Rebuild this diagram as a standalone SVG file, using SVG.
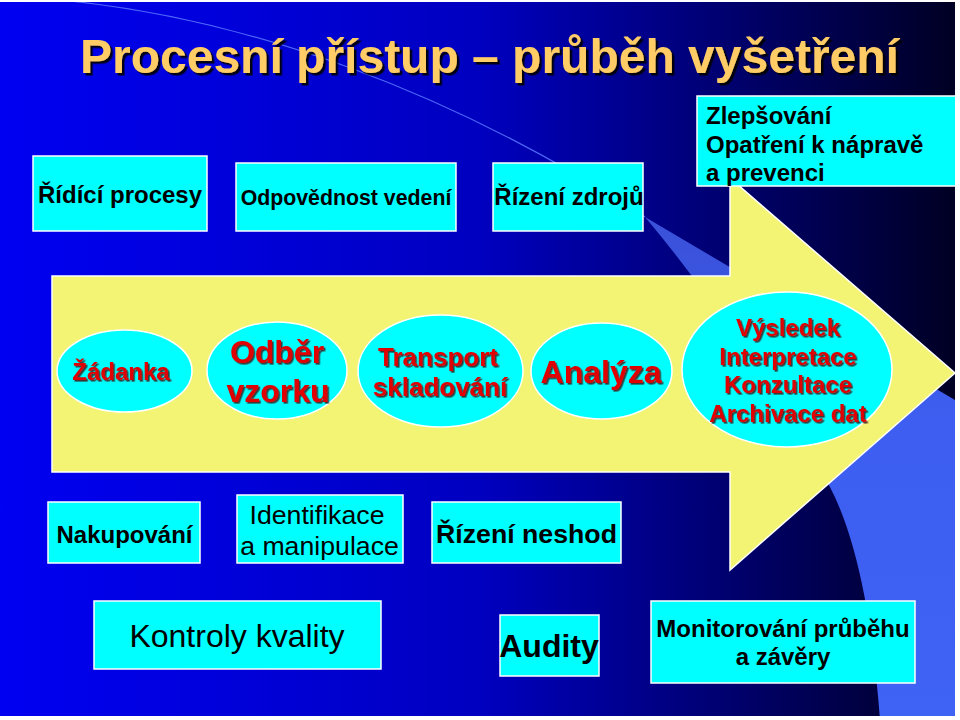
<svg xmlns="http://www.w3.org/2000/svg" width="960" height="720" viewBox="0 0 960 720">
  <defs>
    <linearGradient id="bg" x1="0" y1="0" x2="1" y2="0">
      <stop offset="0" stop-color="#0000f2"/>
      <stop offset="0.5" stop-color="#0000c0"/>
      <stop offset="1" stop-color="#000022"/>
    </linearGradient>
    <linearGradient id="band" x1="0" y1="0" x2="0" y2="1">
      <stop offset="0" stop-color="#3a50d8"/>
      <stop offset="0.4" stop-color="#3d5ef0"/>
      <stop offset="1" stop-color="#3f63f5"/>
    </linearGradient>
    <clipPath id="slide"><rect x="0" y="2" width="955" height="714"/></clipPath>
    <filter id="shTitle" x="-5%" y="-20%" width="110%" height="140%">
      <feDropShadow dx="2.5" dy="2.5" stdDeviation="0.3" flood-color="#000000" flood-opacity="0.9"/>
    </filter>
    <filter id="shRed" x="-5%" y="-20%" width="110%" height="140%">
      <feDropShadow dx="1.6" dy="1.6" stdDeviation="0.2" flood-color="#3a2020" flood-opacity="0.9"/>
    </filter>
    <style>
      .box { fill: #00ffff; stroke: #ffffff; stroke-width: 1.5; }
      .ell { fill: #00ffff; stroke: #ffffff; stroke-width: 1.5; }
      .t { font-family: "Liberation Sans", Arial, sans-serif; fill: #000000; }
      .b { font-weight: bold; }
      .red { font-family: "Liberation Sans", Arial, sans-serif; font-weight: bold; fill: #e00000; filter: url(#shRed); text-anchor: middle; }
      .c { text-anchor: middle; }
    </style>
  </defs>

  <rect x="0" y="0" width="960" height="720" fill="#ffffff"/>

  <g id="background" clip-path="url(#slide)">
    <rect x="0" y="0" width="960" height="720" fill="url(#bg)"/>
    <path d="M645,217 L955,400 L960,400 L960,720 L880,720 Q868,560 830,487 Q740,330 645,217 Z" fill="url(#band)"/>
    <path d="M70,1 C250,20 450,90 645,217" fill="none" stroke="#5a78ff" stroke-width="1.2" opacity="0.85"/>
  </g>

  <g id="process-arrow" clip-path="url(#slide)">
    <path d="M52,276 L730,276 L730,178 L955,373 L730,570 L730,472 L52,472 Z" fill="#f3f374" stroke="#ffffff" stroke-width="1.5"/>
  </g>

  <g id="title">
    <text x="80" y="73" class="t b" font-size="48" style="fill:#ffcc66" filter="url(#shTitle)">Procesní přístup – průběh vyšetření</text>
  </g>

  <g id="ridici-procesy">
    <rect class="box" x="33" y="156" width="174" height="75"/>
    <text class="t b c" x="120" y="203" font-size="24">Řídící procesy</text>
  </g>
  <g id="odpovednost-vedeni">
    <rect class="box" x="236" y="163" width="220" height="68"/>
    <text class="t b c" x="346" y="205" font-size="21.3">Odpovědnost vedení</text>
  </g>
  <g id="rizeni-zdroju">
    <rect class="box" x="493" y="163" width="150" height="68"/>
    <text class="t b c" x="569" y="205" font-size="24">Řízení zdrojů</text>
  </g>
  <g id="zlepsovani" clip-path="url(#slide)">
    <rect class="box" x="697" y="96" width="262" height="90"/>
    <text class="t b" x="706" y="124" font-size="24">Zlepšování</text>
    <text class="t b" x="706" y="152.5" font-size="24">Opatření k nápravě</text>
    <text class="t b" x="706" y="181" font-size="24">a prevenci</text>
  </g>

  <g id="zadanka">
    <ellipse class="ell" cx="124.5" cy="371" rx="67.5" ry="41"/>
    <text class="red" x="121" y="380" font-size="24">Žádanka</text>
  </g>
  <g id="odber-vzorku">
    <ellipse class="ell" cx="277" cy="370.5" rx="70" ry="48.5"/>
    <text class="red" x="277" y="363" font-size="32">Odběr</text>
    <text class="red" x="278" y="401.5" font-size="32">vzorku</text>
  </g>
  <g id="transport">
    <ellipse class="ell" cx="440.5" cy="371" rx="82.5" ry="56"/>
    <text class="red" x="438" y="366" font-size="26">Transport</text>
    <text class="red" x="440" y="396" font-size="26">skladování</text>
  </g>
  <g id="analyza">
    <ellipse class="ell" cx="601.5" cy="371" rx="70.5" ry="48"/>
    <text class="red" x="601" y="382.5" font-size="32">Analýza</text>
  </g>
  <g id="vysledek">
    <ellipse class="ell" cx="787" cy="369.5" rx="105" ry="77.5"/>
    <text class="red" x="788" y="336" font-size="24">Výsledek</text>
    <text class="red" x="788" y="365" font-size="24">Interpretace</text>
    <text class="red" x="788" y="393" font-size="24">Konzultace</text>
    <text class="red" x="788" y="421.5" font-size="24">Archivace dat</text>
  </g>

  <g id="nakupovani">
    <rect class="box" x="48" y="502" width="152" height="61"/>
    <text class="t b c" x="124.5" y="542.5" font-size="24">Nakupování</text>
  </g>
  <g id="identifikace">
    <rect class="box" x="237" y="495" width="166" height="68"/>
    <text class="t c" x="317" y="523.5" font-size="26.7">Identifikace</text>
    <text class="t c" x="319.5" y="555" font-size="26.7">a manipulace</text>
  </g>
  <g id="rizeni-neshod">
    <rect class="box" x="432" y="502" width="189" height="61"/>
    <text class="t b c" x="526.5" y="543" font-size="26.7">Řízení neshod</text>
  </g>
  <g id="kontroly-kvality">
    <rect class="box" x="94" y="601" width="287" height="68"/>
    <text class="t c" x="237" y="647" font-size="32">Kontroly kvality</text>
  </g>
  <g id="audity">
    <rect class="box" x="500" y="615" width="99" height="61"/>
    <text class="t b c" x="549" y="657" font-size="32">Audity</text>
  </g>
  <g id="monitorovani">
    <rect class="box" x="651" y="601" width="264" height="82"/>
    <text class="t b c" x="783" y="637" font-size="24">Monitorování průběhu</text>
    <text class="t b c" x="783" y="665" font-size="24">a závěry</text>
  </g>

  <g id="connectors"></g>
</svg>
